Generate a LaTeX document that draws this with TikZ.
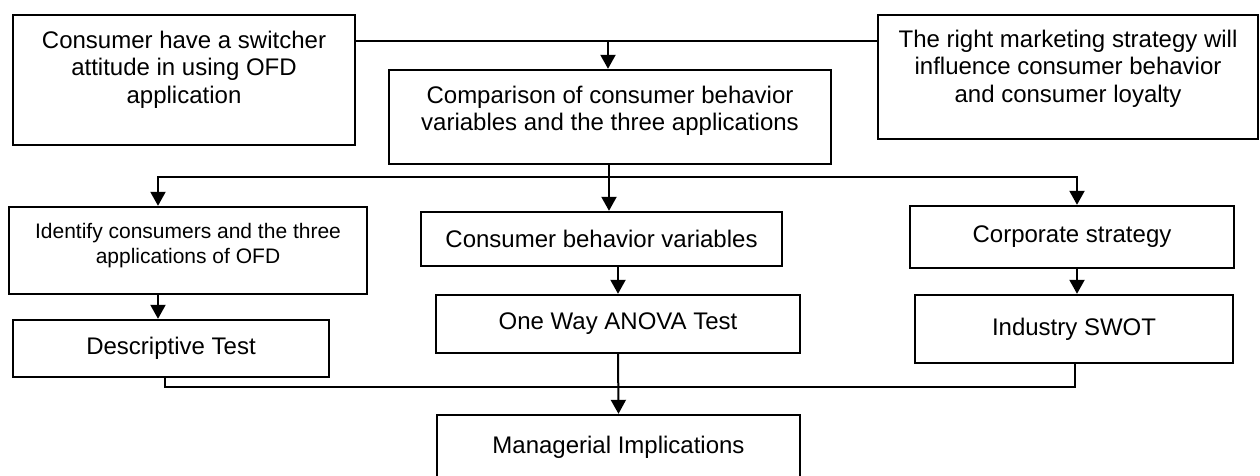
\documentclass[tikz,border=0pt]{standalone}
\usepackage{fontspec}
\setmainfont{Liberation Sans}
\usetikzlibrary{arrows.meta,positioning}
\tikzset{
  box/.style={draw=black,line width=2.4pt,fill=white,inner sep=0pt,align=center,
    font=\fontsize{24}{27.5}\selectfont},
  txt/.style={inner sep=0pt,align=center,font=\fontsize{24}{27.5}\selectfont},
  small/.style={font=\fontsize{21}{25}\selectfont},
  arr/.style={-{Triangle[length=14pt,width=15pt]},line width=2pt},
  link/.style={line width=2pt},
}

\begin{document}
\begin{tikzpicture}[x=1pt,y=-1pt]
  \useasboundingbox (0,0) rectangle (1260,475);
  \clip (0,0) rectangle (1260,475);
  % top row
  \node[box,minimum width=342pt,minimum height=130pt] (switch) at (184,80) {};
  \node[txt,below=17pt of switch.north] (switchtxt) {Consumer have a switcher\\attitude in using OFD\\application};
  \node[box,minimum width=380pt,minimum height=124pt] (market) at (1068,77) {};
  \node[txt,below=16pt of market.north] (markettxt) {The right marketing strategy will\\influence consumer behavior\\and consumer loyalty};
  \node[box,minimum width=442pt,minimum height=94pt] (comp) at (610,117) {};
  \node[txt,below=17pt of comp.north] (comptxt) {Comparison of consumer behavior\\variables and the three applications};
  % three branches
  \node[box,minimum width=358pt,minimum height=87pt] (ident) at (188,250.5) {};
  \node[txt,small,below=17pt of ident.north] (identtxt) {Identify consumers and the three\\applications of OFD};
  \node[box,minimum width=316pt,minimum height=57pt] (desc) at (171,348.5) {Descriptive Test};
  \node[box,minimum width=361pt,minimum height=54pt] (vars) at (601.5,239) {Consumer behavior variables};
  \node[box,minimum width=364pt,minimum height=58pt] (anova) at (618,324) {One Way ANOVA Test};
  \node[box,minimum width=324pt,minimum height=62pt] (corp) at (1072,237) {Corporate strategy};
  \node[box,minimum width=318pt,minimum height=68pt] (swot) at (1074,329) {Industry SWOT};
  \node[box,minimum width=363pt,minimum height=65pt] (manag) at (618.5,447.5) {Managerial Implications};

  % connectors
  \coordinate (top) at (608,41);
  \draw[line width=1.6pt] (switch.east |- top) -- (market.west |- top);
  \draw[arr] (top) -- (top |- comp.north);
  \coordinate (split) at (609,177);
  \draw[link] (comp.south -| split) -- (split);
  \draw[arr] (split) -| ([xshift=-30pt]ident.north);
  \draw[arr] (split) -| ([xshift=5pt]corp.north);
  \draw[arr] (split) -- (split |- vars.north);
  \draw[arr] ([xshift=-30pt]ident.south) -- ([xshift=-30pt]ident.south |- desc.north);
  \draw[arr] (vars.south -| anova.north) -- (anova.north);
  \draw[arr] ([xshift=5pt]corp.south) -- ([xshift=5pt]corp.south |- swot.north);
  \coordinate (merge) at (618,387);
  \draw[link] ([xshift=-6pt]desc.south) |- (merge) -| ([xshift=1pt]swot.south);
  \draw[arr] (anova.south) -- (manag.north);
\end{tikzpicture}
\end{document}
